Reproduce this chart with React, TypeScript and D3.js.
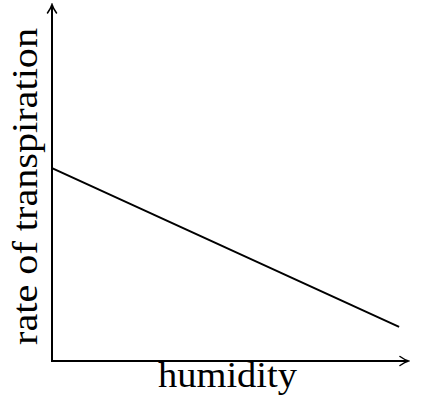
import React from "react";
import * as d3 from "d3";

// values (arbitrary units, 0–10 on both axes)
const humidity = [0, 9.75];
const transpiration = [5.42, 0.96];
const xTitle = "humidity";
const yTitle = "rate of transpiration";

const W = 423;
const H = 400;
const origin = { x: 52, y: 361 };
const xEnd = 408;
const yEnd = 5;

const App = () => {
  const x = d3.scaleLinear().domain([0, 10]).range([origin.x, xEnd]);
  const y = d3.scaleLinear().domain([0, 10]).range([origin.y, yEnd]);

  const points = humidity.map((h, i) => [h, transpiration[i]] as [number, number]);
  const line = d3
    .line<[number, number]>()
    .x((d) => x(d[0]))
    .y((d) => y(d[1]));

  const font = "'Liberation Serif', 'DejaVu Serif', serif";

  return (
    <svg
      width={W}
      height={H}
      style={{ position: "absolute", left: 0, top: 0, background: "#fff" }}
    >
      <defs>
        <marker
          id="arrow"
          viewBox="-10 -6 12 12"
          refX={0}
          refY={0}
          markerWidth={12}
          markerHeight={12}
          markerUnits="userSpaceOnUse"
          orient="auto"
        >
          <path
            d="M-8,-4.5 Q-3,-1 0.5,0 Q-3,1 -8,4.5"
            fill="none"
            stroke="#000"
            strokeWidth={1.5}
            strokeLinecap="round"
          />
        </marker>
      </defs>

      {/* axes */}
      <line
        x1={x(0)}
        y1={y(0)}
        x2={x(10)}
        y2={y(0)}
        stroke="#000"
        strokeWidth={2}
        markerEnd="url(#arrow)"
      />
      <line
        x1={x(0)}
        y1={y(0) + 1}
        x2={x(0)}
        y2={y(10)}
        stroke="#000"
        strokeWidth={2}
        markerEnd="url(#arrow)"
      />

      <path d={line(points) || ""} fill="none" stroke="#000" strokeWidth={2} />

      <text
        x={227.5}
        y={387}
        textAnchor="middle"
        fontFamily={font}
        fontSize={36}
        textLength={139}
        lengthAdjust="spacingAndGlyphs"
      >
        {xTitle}
      </text>
      <text
        transform={`translate(37,${186.5}) rotate(-90)`}
        textAnchor="middle"
        fontFamily={font}
        fontSize={36}
        textLength={317}
        lengthAdjust="spacingAndGlyphs"
      >
        {yTitle}
      </text>
    </svg>
  );
};

export default App;
